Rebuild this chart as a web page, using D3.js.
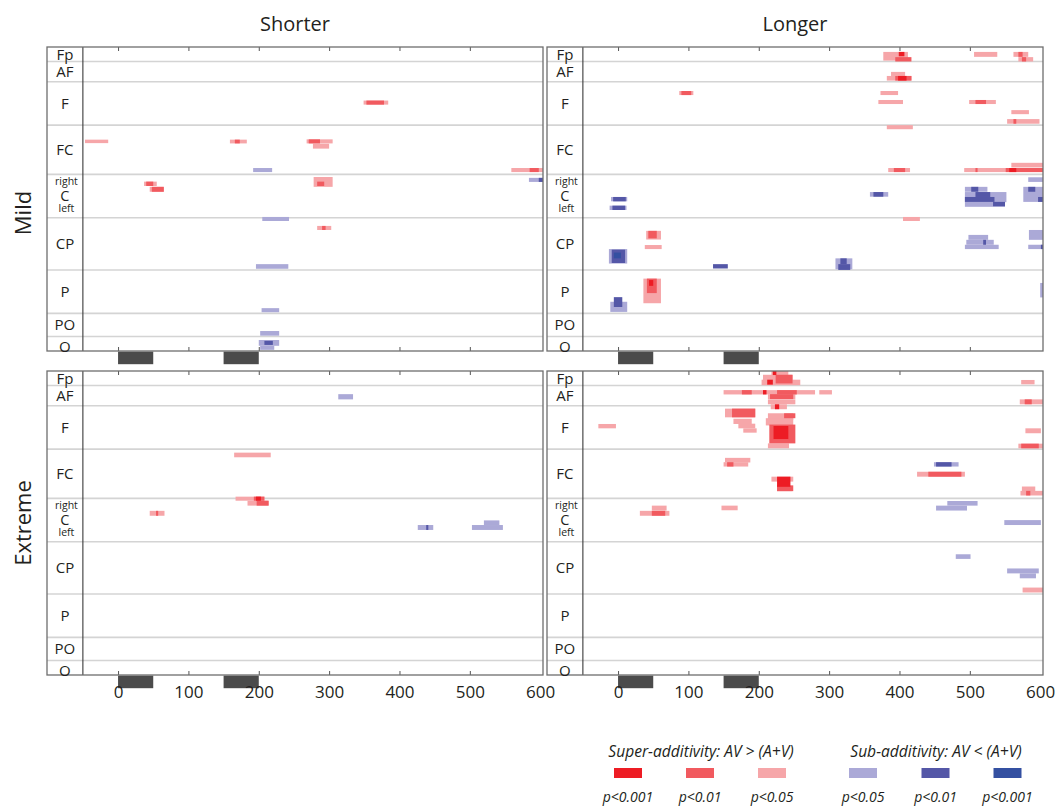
<!DOCTYPE html>
<html>
<head>
<meta charset="utf-8">
<script src="https://cdn.jsdelivr.net/npm/d3@7"></script>
<style>
  body { margin: 0; background: #fff; }
  text { font-family: "Open Sans", "Noto Sans", sans-serif; fill: #231f20; }
</style>
</head>
<body>
<svg id="chart" width="1064" height="809"></svg>
<script>
// Electrode groups from front to back, with the number of channel rows in each
const regionNames = ["Fp", "AF", "F", "FC", "C", "CP", "P", "PO", "O"];
const regionChannels = [5, 7, 15, 17, 15, 18, 15, 8, 5];
const timeTicks = [0, 100, 200, 300, 400, 500, 600];
const innerTicks = [0, 100, 200, 300, 400, 500];
const stimulusWindows = [[0, 50], [150, 200]];
const columnTitles = ["Shorter", "Longer"];
const rowTitles = ["Mild", "Extreme"];

// Significant clusters: [start ms, end ms, first channel, channel span, level]
// level > 0: super-additive, level < 0: sub-additive; |level| 1 p<0.05, 2 p<0.01, 3 p<0.001
const mildShorter = [
  [-47, -14, 32, 1.2, 1],
  [159, 183, 32, 1.3, 1], [166, 173, 32, 1.3, 2],
  [37, 55, 46.5, 1.5, 1], [40, 50, 46.5, 1.5, 2],
  [45, 65, 48.3, 1.7, 1], [48, 65, 48.3, 1.7, 2],
  [349, 384, 18.5, 1.4, 1], [353, 378, 18.5, 1.4, 2],
  [268, 305, 31.9, 1.4, 1], [271, 287, 31.9, 1.4, 2], [277, 300, 33.4, 1.7, 1],
  [278, 305, 44.9, 3.4, 1], [283, 293, 46.5, 1.5, 2],
  [192, 219, 41.8, 1.4, -1],
  [205, 243, 58.7, 1.4, -1],
  [283, 303, 61.8, 1.4, 1], [290, 295, 61.8, 1.4, 2],
  [196, 242, 75, 1.6, -1],
  [204, 229, 90.2, 1.4, -1],
  [202, 229, 98.1, 1.6, -1],
  [200, 229, 101.2, 2, -1], [202, 222, 103.2, 1.4, -1], [208, 220, 101.5, 1.4, -2],
  [559, 604, 41.8, 1.4, 1], [585, 598, 41.8, 1.4, 2],
  [584, 604, 45.2, 1.4, -1], [598, 604, 45.2, 1.4, -2]
];

const mildLonger = [
  [87, 107, 15.2, 1.4, 1], [90, 104, 15.2, 1.4, 2],
  [-10, 13, 51.8, 1.5, -1], [-7, 11, 51.8, 1.5, -2],
  [-12, 12, 54.8, 1.5, -1], [-8, 10, 54.8, 1.5, -2],
  [40, 61, 63.5, 3, 1], [43, 55, 63.5, 2.6, 2], [38, 62, 68.4, 1.4, 1],
  [-13, 13, 69.8, 5, -1], [-9, 10, 70, 4.6, -2], [-6, 4, 71, 2, -3],
  [36, 61, 80, 8.5, 1], [41, 55, 80, 5, 2], [44, 50, 80.5, 2, 3],
  [-11, 13, 88, 3.5, -1], [-6, 6, 86.4, 3.4, -2],
  [135, 156, 75, 1.5, -2],
  [309, 333, 73, 3.8, -1], [313, 330, 75, 2, -2], [316, 325, 73, 2, -2],
  [377, 412, 1.7, 3, 1], [394, 417, 3.5, 1.5, 2], [399, 407, 1.7, 1.5, 3],
  [506, 539, 1.7, 1.7, 1],
  [562, 583, 1.7, 1.7, 1], [569, 575, 1.7, 1.7, 2], [569, 590, 3.5, 1.5, 1], [574, 580, 3.5, 1.5, 2],
  [388, 408, 8.6, 1.4, 1], [382, 417, 10, 1.6, 1], [394, 417, 10, 1.6, 2], [398, 410, 10, 1.6, 3],
  [373, 398, 15.2, 1.4, 1], [370, 405, 18.3, 1.4, 1],
  [499, 537, 18.3, 1.4, 1], [508, 523, 18.3, 1.4, 2],
  [559, 584, 21.8, 1.4, 1], [553, 599, 24.9, 1.6, 1], [562, 566, 24.9, 1.6, 2],
  [382, 419, 27, 1.4, 1],
  [384, 415, 41.8, 1.4, 1], [392, 408, 41.8, 1.4, 2],
  [492, 604, 41.8, 1.4, 1], [508, 511, 41.8, 1.4, 2],
  [559, 604, 40, 1.6, 1], [551, 604, 41.8, 1.4, 2], [556, 566, 41.8, 1.4, 3],
  [583, 604, 45, 1.6, -1],
  [358, 384, 50.1, 1.6, -1], [363, 377, 50.1, 1.6, -2],
  [493, 525, 48.3, 1.7, -1], [493, 552, 50.1, 3.5, -1], [493, 550, 53.5, 1.7, -1],
  [502, 512, 48.3, 1.7, -2], [508, 529, 50.1, 1.7, -2], [493, 535, 51.8, 1.7, -2], [533, 550, 53.5, 1.5, -2],
  [576, 604, 48.3, 5.2, -1], [583, 593, 48.3, 1.7, -2], [597, 604, 51.8, 1.7, -2],
  [405, 429, 58.7, 1.4, 1],
  [498, 526, 64.9, 1.7, -1], [495, 534, 66.6, 1.7, -1], [493, 541, 68.3, 1.5, -1], [519, 523, 66.6, 1.7, -2],
  [584, 604, 63.2, 3.4, -1], [583, 604, 68.3, 1.5, -1], [601, 604, 68.3, 1.5, -2],
  [600, 604, 81.5, 5, -1]
];

const extremeShorter = [
  [313, 334, 8, 1.8, -1],
  [165, 217, 28.2, 1.6, 1],
  [167, 208, 43.4, 1.4, 1], [193, 208, 43.4, 1.4, 2], [196, 203, 43.4, 1.4, 3],
  [184, 214, 44.8, 1.7, 1], [197, 214, 44.8, 1.7, 2],
  [45, 66, 48.3, 1.7, 1], [54, 57, 48.3, 1.7, 2],
  [426, 448, 53.2, 1.7, -1], [438, 441, 53.2, 1.7, -2],
  [503, 547, 53.2, 1.7, -1], [520, 542, 51.6, 1.6, -1]
];

const extremeLonger = [
  [218, 242, 0, 1.5, 1], [206, 248, 1.3, 2.1, 1], [204, 259, 3, 1.9, 1],
  [224, 248, 1.3, 3, 2], [220, 225, 0, 1.4, 3], [212, 220, 3, 1.7, 3],
  [573, 592, 3.1, 1.5, 1],
  [150, 280, 6.6, 1.5, 1], [176, 190, 6.6, 1.5, 2], [226, 254, 6.6, 1.5, 2], [206, 211, 6.6, 1.5, 3],
  [286, 304, 6.6, 1.5, 1],
  [213, 252, 8, 1.7, 1], [216, 249, 8, 1.7, 2], [213, 252, 9.8, 1.7, 1],
  [571, 604, 9.8, 1.7, 1], [578, 588, 9.8, 1.7, 2],
  [217, 240, 11.5, 1.7, 1], [223, 229, 11.5, 1.7, 3],
  [152, 195, 13, 3, 1], [162, 195, 13, 3, 2],
  [164, 190, 16.5, 1.8, 1], [171, 195, 18.2, 1.6, 1], [178, 197, 19.8, 1.5, 1],
  [213, 249, 14.6, 2.3, 1], [236, 252, 14.6, 1.7, 2],
  [210, 249, 16.3, 2.5, 1], [215, 252, 18.5, 6.5, 2], [221, 242, 19, 4.5, 3],
  [213, 243, 25, 1.7, 1],
  [-28, -3, 18.3, 1.5, 1],
  [579, 601, 19.8, 1.7, 1], [569, 604, 25.1, 1.6, 1], [573, 598, 25.1, 1.6, 2],
  [152, 188, 30, 1.6, 1], [150, 185, 31.5, 1.5, 1], [155, 164, 31.5, 1.5, 2],
  [218, 249, 36.5, 1.7, 1], [226, 247, 40, 1.5, 1], [226, 249, 39.5, 2, 2], [226, 245, 36.5, 3.5, 3],
  [449, 484, 31.5, 1.5, -1], [452, 474, 31.5, 1.5, -2],
  [425, 493, 34.8, 1.7, 1], [441, 488, 34.8, 1.7, 2],
  [574, 593, 39.9, 1.7, 1], [572, 604, 41.4, 1.6, 1], [580, 586, 41.4, 1.6, 2],
  [147, 170, 46.5, 1.6, 1],
  [48, 69, 46.5, 1.7, 1], [31, 73, 48.3, 1.7, 1], [48, 67, 48.3, 1.7, 2],
  [468, 511, 44.9, 1.6, -1], [452, 496, 46.5, 1.7, -1], [549, 601, 51.5, 1.7, -1],
  [480, 501, 63.3, 1.6, -1], [553, 598, 68.2, 1.7, -1], [571, 594, 69.9, 1.7, -1],
  [575, 604, 74.8, 1.7, 1]
];

const superLevels = [3, 2, 1];
const subLevels = [-1, -2, -3];
const superLabels = ["p<0.001", "p<0.01", "p<0.05"];
const subLabels = ["p<0.05", "p<0.01", "p<0.001"];
const legendTitles = ["Super-additivity: AV > (A+V)", "Sub-additivity: AV < (A+V)"];

const color = d3.scaleOrdinal()
  .domain([3, 2, 1, -1, -2, -3])
  .range(["#ed1c24", "#f15a5f", "#f6a6a9", "#aba9d7", "#5457a7", "#3450a1"]);

const svg = d3.select("#chart");
const W = 496, H = 304;
const colX = [47, 547], rowY = [47, 371];

const x = d3.scaleLinear().domain([-101, 604]).range([0, W]);
const totalCh = d3.sum(regionChannels);
const y = d3.scaleLinear().domain([0, totalCh]).range([0, H]);
const regionEnds = Array.from(d3.cumsum(regionChannels));
const regionStarts = [0, ...regionEnds.slice(0, -1)];

const panels = [
  { data: mildShorter, col: 0, row: 0 },
  { data: mildLonger, col: 1, row: 0 },
  { data: extremeShorter, col: 0, row: 1 },
  { data: extremeLonger, col: 1, row: 1 }
];

panels.forEach((p, i) => {
  const g = svg.append("g").attr("transform", `translate(${colX[p.col]},${rowY[p.row]})`);
  const clipId = "plotclip" + i;
  g.append("clipPath").attr("id", clipId).append("rect")
    .attr("x", x(-50)).attr("y", 0).attr("width", W - x(-50)).attr("height", H);

  // region dividers
  g.selectAll("line.divider").data(regionEnds.slice(0, -1)).join("line")
    .attr("class", "divider")
    .attr("x1", 0).attr("x2", W)
    .attr("y1", d => y(d)).attr("y2", d => y(d))
    .attr("stroke", "#d4d4d4").attr("stroke-width", 1.6);

  // clusters, weakest first so stronger ones sit on top
  const sorted = p.data.slice().sort((a, b) => Math.abs(a[4]) - Math.abs(b[4]));
  g.append("g").attr("clip-path", `url(#${clipId})`)
    .selectAll("rect").data(sorted).join("rect")
    .attr("x", d => x(d[0]))
    .attr("width", d => x(d[1]) - x(d[0]))
    .attr("y", d => y(d[2]))
    .attr("height", d => y(d[2] + d[3]) - y(d[2]))
    .attr("fill", d => color(d[4]));

  // label column separator
  g.append("line")
    .attr("x1", x(-50)).attr("x2", x(-50)).attr("y1", 0).attr("y2", H)
    .attr("stroke", "#3a3a3a").attr("stroke-width", 1.1);

  // inward ticks on top and bottom edges
  const topAxis = d3.axisTop(x).tickValues(innerTicks).tickSize(-4).tickFormat("");
  const botAxis = d3.axisBottom(x).tickValues(innerTicks).tickSize(-4).tickFormat("");
  g.append("g").call(topAxis).call(a => a.select(".domain").remove())
    .selectAll("line").attr("stroke", "#555");
  g.append("g").attr("transform", `translate(0,${H})`).call(botAxis)
    .call(a => a.select(".domain").remove())
    .selectAll("line").attr("stroke", "#555");

  // frame
  g.append("rect").attr("x", 0).attr("y", 0).attr("width", W).attr("height", H)
    .attr("fill", "none").attr("stroke", "#6e6e6e").attr("stroke-width", 1.3);

  // stimulus windows under the panel
  g.selectAll("rect.stim").data(stimulusWindows).join("rect")
    .attr("class", "stim")
    .attr("x", d => x(d[0])).attr("width", d => x(d[1]) - x(d[0]))
    .attr("y", H + 0.7).attr("height", 12.5)
    .attr("fill", "#4b4b4b");

  // region labels
  const lx = (x(-101) + x(-50)) / 2;
  regionNames.forEach((name, k) => {
    const mid = (regionStarts[k] + regionEnds[k]) / 2;
    if (name === "C") {
      g.append("text").attr("x", lx + 1.5).attr("y", y(regionStarts[k] + 2.6))
        .attr("dy", "0.32em").attr("text-anchor", "middle").attr("font-size", 10.5).text("right");
      g.append("text").attr("x", lx).attr("y", y(mid - 0.2))
        .attr("dy", "0.36em").attr("text-anchor", "middle").attr("font-size", 14.5).text(name);
      g.append("text").attr("x", lx + 1.5).attr("y", y(regionEnds[k] - 3.4))
        .attr("dy", "0.38em").attr("text-anchor", "middle").attr("font-size", 10.5).text("left");
    } else {
      const shift = name === "O" ? 0.9 : (name === "Fp" ? 0.2 : 0);
      g.append("text").attr("x", lx).attr("y", y(mid + shift))
        .attr("dy", "0.36em").attr("text-anchor", "middle").attr("font-size", 15).text(name);
    }
  });

  // time axis labels on the lower row
  if (p.row === 1) {
    const axis = d3.axisBottom(x).tickValues(timeTicks).tickSize(0).tickPadding(11);
    const ag = g.append("g").attr("transform", `translate(0,${H})`).call(axis);
    ag.select(".domain").remove();
    ag.selectAll("text").attr("font-size", 17).attr("fill", "#231f20")
      .style("font-family", '"Open Sans", "Noto Sans", sans-serif');
  }
});

// column titles
columnTitles.forEach((t, c) => {
  svg.append("text").attr("x", colX[c] + W / 2).attr("y", 31)
    .attr("text-anchor", "middle").attr("font-size", 20).text(t);
});

// row titles
const rowCenters = [213, rowY[1] + H / 2];
rowTitles.forEach((t, r) => {
  svg.append("text").attr("transform", `translate(31,${rowCenters[r]}) rotate(-90)`)
    .attr("text-anchor", "middle").attr("font-size", 22).text(t);
});

// legend
const legend = svg.append("g");
const groups = [
  { title: legendTitles[0], levels: superLevels, labels: superLabels, centers: [628, 700, 772], cx: 701 },
  { title: legendTitles[1], levels: subLevels, labels: subLabels, centers: [863, 935.5, 1007.5], cx: 936 }
];
groups.forEach(gr => {
  legend.append("text").attr("x", gr.cx).attr("y", 757)
    .attr("text-anchor", "middle").attr("font-size", 15.6).attr("font-style", "italic")
    .text(gr.title);
  gr.levels.forEach((lv, k) => {
    legend.append("rect").attr("x", gr.centers[k] - 14).attr("y", 768)
      .attr("width", 28).attr("height", 10).attr("fill", color(lv));
    legend.append("text").attr("x", gr.centers[k]).attr("y", 802)
      .attr("text-anchor", "middle").attr("font-size", 14).attr("font-style", "italic")
      .text(gr.labels[k]);
  });
});
</script>
</body>
</html>
